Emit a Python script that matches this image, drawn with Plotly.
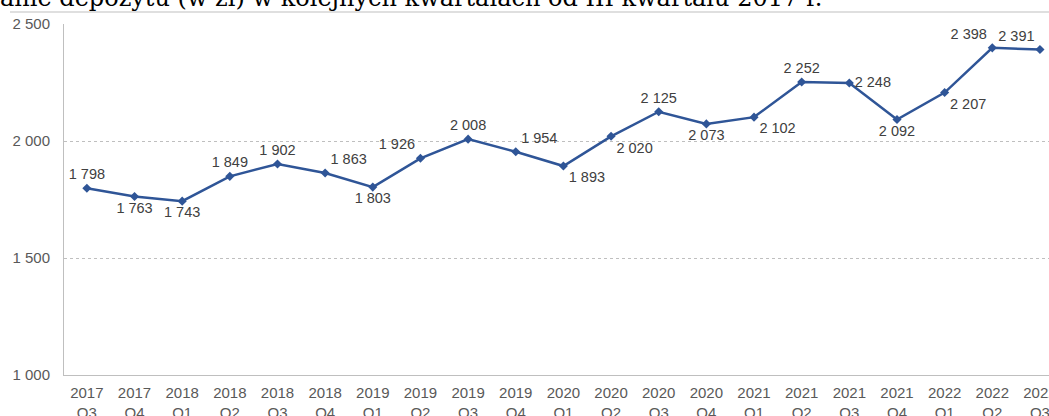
import plotly.graph_objects as go

# quarters and values (zł)
quarters = [
    "2017<br>Q3", "2017<br>Q4", "2018<br>Q1", "2018<br>Q2", "2018<br>Q3", "2018<br>Q4",
    "2019<br>Q1", "2019<br>Q2", "2019<br>Q3", "2019<br>Q4", "2020<br>Q1", "2020<br>Q2",
    "2020<br>Q3", "2020<br>Q4", "2021<br>Q1", "2021<br>Q2", "2021<br>Q3", "2021<br>Q4",
    "2022<br>Q1", "2022<br>Q2", "2022<br>Q3",
]
deposit = [1798, 1763, 1743, 1849, 1902, 1863, 1803, 1926, 2008, 1954, 1893, 2020,
           2125, 2073, 2102, 2252, 2248, 2092, 2207, 2398, 2391]

label_pos = [
    "top center", "bottom center", "bottom center", "top center", "top center", "top right",
    "bottom center", "top left", "top center", "top right", "bottom right", "bottom right",
    "top center", "bottom center", "bottom right", "top center", "middle right", "bottom center",
    "bottom right", "top left", "top left",
]

TITLE = "anie depozytu (w zł) w kolejnych kwartałach od III kwartału 2017 r."

labels = [f"{v:,}".replace(",", " ") for v in deposit]

fig = go.Figure(
    go.Scatter(
        x=quarters,
        y=deposit,
        mode="lines+markers+text",
        line=dict(color="#2F5597", width=2.5),
        marker=dict(symbol="diamond", size=7, color="#2F5597"),
        text=labels,
        textposition=label_pos,
        textfont=dict(family="Liberation Sans, Arial", size=14.5, color="#404040"),
        cliponaxis=False,
    )
)

# plot area: x from px 64 to 1049 (chart continues past the right edge), y from px 24 to 375
fig.update_layout(
    width=1049,
    height=416,
    margin=dict(l=64, r=0, t=24, b=41, autoexpand=False),
    paper_bgcolor="white",
    plot_bgcolor="white",
    showlegend=False,
    separators=", ",
    font=dict(family="Liberation Sans, Arial", color="#595959", size=15),
    xaxis=dict(
        type="category",
        range=[-0.48, 20.19],
        showgrid=False,
        showline=True,
        linecolor="#BFBFBF",
        linewidth=1,
        ticks="",
        tickfont=dict(size=15, color="#595959"),
        ticklabelstandoff=4,
        automargin=False,
    ),
    yaxis=dict(
        range=[1000, 2500],
        dtick=500,
        separatethousands=True,
        showgrid=True,
        gridcolor="#BFBFBF",
        griddash="dot",
        gridwidth=1,
        showline=True,
        linecolor="#BFBFBF",
        linewidth=1,
        zeroline=False,
        ticks="",
        tickfont=dict(size=15, color="#595959"),
        ticklabelstandoff=10,
        automargin=False,
    ),
    annotations=[
        dict(
            text=TITLE,
            xref="paper", yref="paper",
            x=-66 / 985, y=1 + 10 / 351,
            xanchor="left", yanchor="bottom",
            showarrow=False,
            font=dict(family="DejaVu Serif, serif", size=24, color="#000000"),
        )
    ],
    shapes=[
        dict(
            type="line",
            xref="paper", yref="paper",
            x0=-54 / 985, x1=1.0, y0=1 + 12 / 351, y1=1 + 12 / 351,
            line=dict(color="#BFBFBF", width=1),
        )
    ],
)

fig.write_html(
    "out.html",
    config={"displayModeBar": False},
    post_script="document.body.style.margin='0';",
)
